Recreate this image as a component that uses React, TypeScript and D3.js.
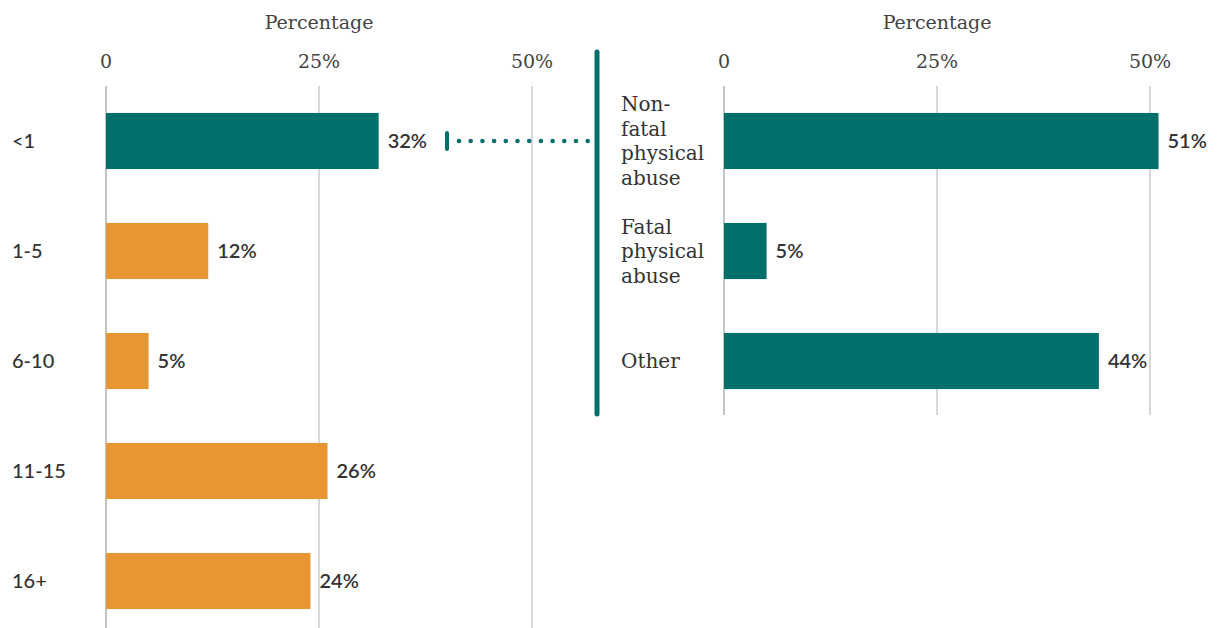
import React from "react";
import * as d3 from "d3";

const ageGroups = ["<1", "1-5", "6-10", "11-15", "16+"];
const ageValues = [32, 12, 5, 26, 24];
const ageColors = ["#00706A", "#E89633", "#E89633", "#E89633", "#E89633"];

const causeLabels = [["Non-", "fatal", "physical", "abuse"], ["Fatal", "physical", "abuse"], ["Other"]];
const causeValues = [51, 5, 44];
const causeColor = "#00706A";

const tickValues = [0, 25, 50];
const tickLabels = ["0", "25%", "50%"];
const axisTitle = "Percentage";

const W = 1219;
const H = 628;
const serif = "'DejaVu Serif', serif";
const sans = "Lato, 'Noto Sans', sans-serif";
const teal = "#00706A";

export default function App() {
  const xL = d3.scaleLinear().domain([0, 50]).range([106, 532]);
  const xR = d3.scaleLinear().domain([0, 50]).range([724, 1150]);
  const yL = d3.scaleBand<string>().domain(ageGroups).range([86, 636]).paddingInner(0.49).paddingOuter(0.245);
  const causeKeys = causeLabels.map((l) => l.join(" "));
  const yR = d3.scaleBand<string>().domain(causeKeys).range([86, 416]).paddingInner(0.49).paddingOuter(0.245);

  const dotStart = 459;
  const dotEnd = 590;
  const dots = d3.range(dotStart, dotEnd + 1, 11.7);
  const connY = (yL(ageGroups[0]) as number) + yL.bandwidth() / 2;

  const axis = (x: d3.ScaleLinear<number, number>, y0: number, y1: number, key: string) => (
    <g key={key}>
      <text x={(x(0) + x(50)) / 2} y={29} textAnchor="middle" fontFamily={serif} fontSize={19} fontWeight={300} fill="#444">
        {axisTitle}
      </text>
      {tickValues.map((t, i) => (
        <g key={t}>
          <line x1={x(t)} x2={x(t)} y1={y0} y2={y1} stroke={t === 0 ? "#c4c4c4" : "#b0b0b0"} strokeWidth={t === 0 ? 2 : 1} />
          <text x={x(t)} y={68} textAnchor="middle" fontFamily={serif} fontSize={19} fontWeight={300} fill="#444">
            {tickLabels[i]}
          </text>
        </g>
      ))}
    </g>
  );

  return (
    <svg width={W} height={H} style={{ position: "absolute", left: 0, top: 0, background: "#fff" }}>
      {axis(xL, 86, 628, "l")}
      {axis(xR, 86, 415, "r")}
      {ageGroups.map((g, i) => {
        const y = yL(g) as number;
        const cy = y + yL.bandwidth() / 2;
        return (
          <g key={g}>
            <rect x={xL(0)} y={y} width={xL(ageValues[i]) - xL(0)} height={yL.bandwidth()} fill={ageColors[i]} />
            <text x={12} y={cy} dy="0.35em" fontFamily={sans} fontSize={20} fontWeight={500} fill="#333">{g}</text>
            <text x={xL(ageValues[i]) + 9} y={cy} dy="0.35em" fontFamily={sans} fontSize={20} fontWeight={600} fill="#333">
              {ageValues[i]}%
            </text>
          </g>
        );
      })}
      {causeKeys.map((k, i) => {
        const y = yR(k) as number;
        const cy = y + yR.bandwidth() / 2;
        const lines = causeLabels[i];
        const lh = 24.5;
        return (
          <g key={k}>
            <rect x={xR(0)} y={y} width={xR(causeValues[i]) - xR(0)} height={yR.bandwidth()} fill={causeColor} />
            {lines.map((ln, j) => (
              <text key={j} x={621} y={cy + (j - (lines.length - 1) / 2) * lh} dy="0.35em" fontFamily={serif} fontSize={20} fill="#333">
                {ln}
              </text>
            ))}
            <text x={xR(causeValues[i]) + 9} y={cy} dy="0.35em" fontFamily={sans} fontSize={20} fontWeight={600} fill="#333">
              {causeValues[i]}%
            </text>
          </g>
        );
      })}
      <line x1={597} x2={597} y1={52} y2={414} stroke={teal} strokeWidth={5} strokeLinecap="round" />
      <line x1={447} x2={447} y1={133} y2={149} stroke={teal} strokeWidth={4} strokeLinecap="round" />
      {dots.map((d, i) => (
        <circle key={i} cx={d} cy={connY} r={2.3} fill={teal} />
      ))}
    </svg>
  );
}
